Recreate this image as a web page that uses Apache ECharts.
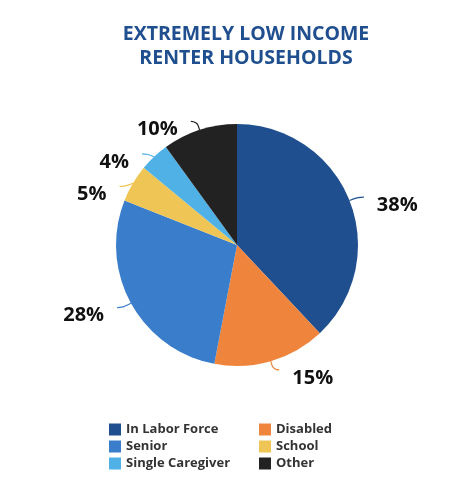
<!DOCTYPE html>
<html><head><meta charset="utf-8">
<script src="https://cdn.jsdelivr.net/npm/echarts@6/dist/echarts.min.js"></script>
<style>html,body{margin:0;padding:0;background:#fff}#c{width:454px;height:500px}</style>
</head><body><div id="c"></div>
<script>
const categories = ['In Labor Force','Disabled','Senior','School','Single Caregiver','Other'];
const values = [38,15,28,5,4,10];
const colors = ['#1f4f8f','#ef843c','#3a7ecb','#efc655','#4fb1e6','#222222'];
const legendCol1 = ['In Labor Force','Senior','Single Caregiver'];
const legendCol2 = ['Disabled','School','Other'];

const chart = echarts.init(document.getElementById('c'));
const font = 'Open Sans';
const legendBase = {
  orient:'vertical', top:418, itemWidth:12, itemHeight:12, itemGap:4, icon:'rect',
  textStyle:{fontFamily:font, fontWeight:'bold', fontSize:13, color:'#333'}
};
chart.setOption({
  animation:false,
  color: colors,
  title:{
    text:'EXTREMELY LOW INCOME\nRENTER HOUSEHOLDS',
    left:241, textAlign:'center', top:17,
    textStyle:{fontFamily:font, fontWeight:'bold', fontSize:19.5, color:'#1f4f8f', lineHeight:24}
  },
  legend:[
    Object.assign({}, legendBase, {left:104, data:legendCol1}),
    Object.assign({}, legendBase, {left:254, data:legendCol2})
  ],
  series:[{
    type:'pie',
    center:[237,245],
    radius:[0,121],
    startAngle:90,
    clockwise:true,
    data: categories.map((n,i)=>({name:n, value:values[i]})),
    label:{
      show:true, position:'outside', formatter:'{s| }\n{v|{c}%}',
      padding:[0,8,0,8], distanceToLabelLine:5,
      rich:{
        s:{fontSize:1, lineHeight:16},
        v:{fontFamily:font, fontWeight:'bold', fontSize:20, color:'#111', lineHeight:24}
      }
    },
    labelLine:{show:true, length:9, length2:6, smooth:0.5, lineStyle:{width:1.2}},
    itemStyle:{borderWidth:0}
  }]
});
</script></body></html>
